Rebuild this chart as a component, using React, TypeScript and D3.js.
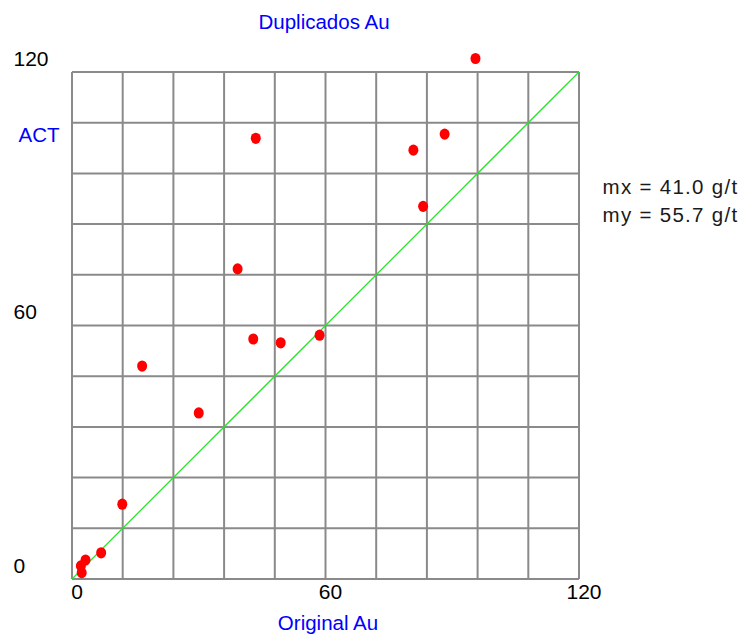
import React from "react";
import * as d3 from "d3";

// Gold assays: original sample vs. field duplicate (g/t)
const originalAu: number[] = [95.5, 43.5, 88.2, 80.8, 83.1, 39.2, 42.9, 49.4, 58.6, 16.6, 30.0, 11.9, 6.9, 3.2, 2.1, 2.3];
const duplicateAu: number[] = [123.2, 104.3, 105.3, 101.5, 88.2, 73.4, 56.8, 55.9, 57.7, 50.4, 39.3, 17.7, 6.2, 4.5, 3.1, 1.5];

const axisLabels: number[] = [0, 60, 120];
const gridSteps: number[] = d3.range(0, 121, 12);
const statLines: string[] = ["mx = 41.0 g/t", "my = 55.7 g/t"];

const W = 742;
const H = 636;
const plot = { left: 72, top: 72, right: 579, bottom: 579 };

export default function App() {
  const x = d3.scaleLinear().domain([0, 120]).range([plot.left, plot.right]);
  const y = d3.scaleLinear().domain([0, 120]).range([plot.bottom, plot.top]);
  const font = "'Liberation Sans', Arial, sans-serif";
  const gridColor = "#8a8a8a";

  return (
    <svg
      width={W}
      height={H}
      viewBox={`0 0 ${W} ${H}`}
      style={{ position: "absolute", left: 0, top: 0, background: "#fff" }}
    >
      <rect x={0} y={0} width={W} height={H} fill="#fff" />

      {/* grid */}
      {gridSteps.map((v) => (
        <line
          key={`v${v}`}
          x1={x(v)}
          x2={x(v)}
          y1={y(0)}
          y2={y(120)}
          stroke={gridColor}
          strokeWidth={2}
        />
      ))}
      {gridSteps.map((v) => (
        <line
          key={`h${v}`}
          x1={x(0)}
          x2={x(120)}
          y1={y(v)}
          y2={y(v)}
          stroke={gridColor}
          strokeWidth={2}
        />
      ))}

      {/* 1:1 reference line */}
      <line x1={x(0)} y1={y(0)} x2={x(120)} y2={y(120)} stroke="#2ee02e" strokeWidth={1.3} />

      {/* samples */}
      {originalAu.map((v, i) => (
        <ellipse key={i} cx={x(v)} cy={y(duplicateAu[i])} rx={5} ry={5.6} fill="#ff0000" />
      ))}

      {/* y axis labels */}
      {axisLabels.map((v) => (
        <text key={`yl${v}`} x={13.5} y={y(v) - 6.5} fontFamily={font} fontSize={21} fill="#000">
          {v}
        </text>
      ))}
      {/* x axis labels */}
      {axisLabels.map((v) => (
        <text
          key={`xl${v}`}
          x={x(v) + 5}
          y={599}
          textAnchor="middle"
          fontFamily={font}
          fontSize={21}
          fill="#000"
        >
          {v}
        </text>
      ))}

      {/* titles */}
      <text x={324} y={28.5} textAnchor="middle" fontFamily={font} fontSize={20.5} fill="#0000ff">
        Duplicados Au
      </text>
      <text x={328} y={629.5} textAnchor="middle" fontFamily={font} fontSize={20.5} fill="#0000ff">
        Original Au
      </text>
      <text x={59.5} y={141.5} textAnchor="end" fontFamily={font} fontSize={20.5} fill="#0000ff">
        ACT
      </text>

      {/* mean values */}
      {statLines.map((s, i) => (
        <text
          key={s}
          x={602.5}
          y={194 + i * 28}
          fontFamily={font}
          fontSize={20.5}
          letterSpacing={1.3}
          fill="#1a1a1a"
        >
          {s}
        </text>
      ))}
    </svg>
  );
}
